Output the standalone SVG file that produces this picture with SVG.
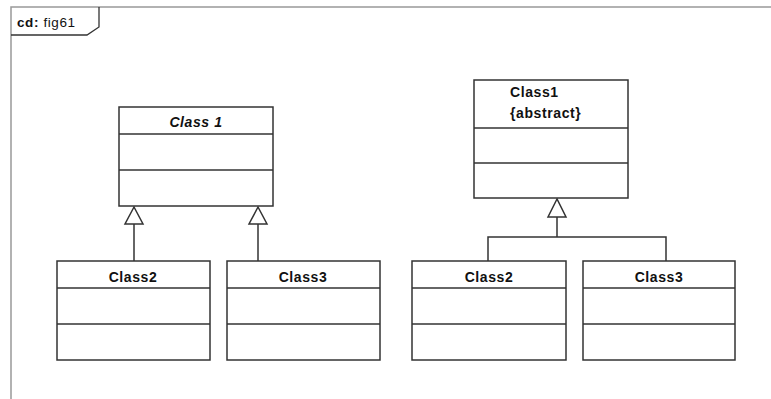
<svg xmlns="http://www.w3.org/2000/svg" width="771" height="399" viewBox="0 0 771 399">
<style>
.box{fill:#fff;stroke:#333;stroke-width:1.5}
.div{stroke:#333;stroke-width:1.5}
.t{font-family:"Liberation Sans",Arial,sans-serif;font-weight:bold;font-size:14px;letter-spacing:0.6px;fill:#111}
.c{stroke:#333;stroke-width:1.5;fill:none}
.tri{fill:#fff;stroke:#333;stroke-width:1.5}
</style>
<rect width="771" height="399" fill="#fff"/>
<g id="frame">
<path d="M11,399 V7 H771" fill="none" stroke="#999" stroke-width="1.5"/>
<path d="M11,35 H87 L99,27 V7" fill="none" stroke="#333" stroke-width="1.3"/>
<text x="17" y="27" font-family="Liberation Sans,Arial,sans-serif" font-size="13.5" letter-spacing="0.6" fill="#111"><tspan font-weight="bold">cd:</tspan> fig61</text>
</g>
<g id="connectors">
<path class="c" d="M134,224 V261"/>
<polygon class="tri" points="134,207 125,224 143,224"/>
<path class="c" d="M258,224 V261"/>
<polygon class="tri" points="258,207 249,224 267,224"/>
<path class="c" d="M557,217 V237 M488,261 V237 H666 V261"/>
<polygon class="tri" points="557,199 548,217 566,217"/>
</g>
<g id="left-class1">
<rect class="box" x="119" y="107" width="154" height="99"/>
<line class="div" x1="119" y1="134" x2="273" y2="134"/>
<line class="div" x1="119" y1="170" x2="273" y2="170"/>
<text class="t" x="196" y="127" text-anchor="middle" font-style="italic" letter-spacing="1.2">Class 1</text>
</g>
<g id="left-class2">
<rect class="box" x="57" y="261" width="153" height="99"/>
<line class="div" x1="57" y1="288" x2="210" y2="288"/>
<line class="div" x1="57" y1="324" x2="210" y2="324"/>
<text class="t" x="133" y="282" text-anchor="middle">Class2</text>
</g>
<g id="left-class3">
<rect class="box" x="227" y="261" width="153" height="99"/>
<line class="div" x1="227" y1="288" x2="380" y2="288"/>
<line class="div" x1="227" y1="324" x2="380" y2="324"/>
<text class="t" x="303" y="282" text-anchor="middle">Class3</text>
</g>
<g id="right-class1">
<rect class="box" x="474" y="80" width="154" height="118"/>
<line class="div" x1="474" y1="128" x2="628" y2="128"/>
<line class="div" x1="474" y1="163" x2="628" y2="163"/>
<text class="t" x="510" y="97">Class1</text>
<text class="t" x="510" y="118" letter-spacing="1.2">{abstract}</text>
</g>
<g id="right-class2">
<rect class="box" x="412" y="261" width="154" height="99"/>
<line class="div" x1="412" y1="288" x2="566" y2="288"/>
<line class="div" x1="412" y1="324" x2="566" y2="324"/>
<text class="t" x="489" y="282" text-anchor="middle">Class2</text>
</g>
<g id="right-class3">
<rect class="box" x="583" y="261" width="152" height="99"/>
<line class="div" x1="583" y1="288" x2="735" y2="288"/>
<line class="div" x1="583" y1="324" x2="735" y2="324"/>
<text class="t" x="659" y="282" text-anchor="middle">Class3</text>
</g>
</svg>
